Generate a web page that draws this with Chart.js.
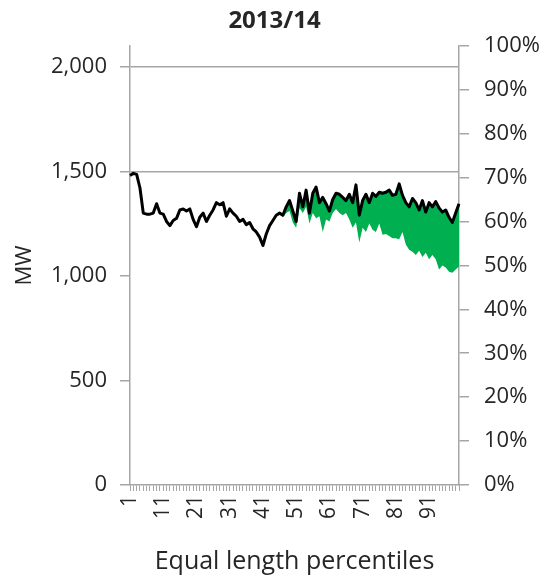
<!DOCTYPE html>
<html>
<head>
<meta charset="utf-8">
<script src="https://cdn.jsdelivr.net/npm/chart.js@4.4.0/dist/chart.umd.min.js"></script>
<style>
  html, body { margin: 0; padding: 0; background: #fff; }
  canvas { display: block; }
</style>
</head>
<body>
<canvas id="grafica" width="549" height="580"></canvas>
<script>
// percentiles 1..100
const percentiles = [
  1, 2, 3, 4, 5, 6, 7, 8, 9, 10, 11, 12, 13, 14, 15, 16, 17, 18, 19, 20,
  21, 22, 23, 24, 25, 26, 27, 28, 29, 30, 31, 32, 33, 34, 35, 36, 37, 38, 39, 40,
  41, 42, 43, 44, 45, 46, 47, 48, 49, 50, 51, 52, 53, 54, 55, 56, 57, 58, 59, 60,
  61, 62, 63, 64, 65, 66, 67, 68, 69, 70, 71, 72, 73, 74, 75, 76, 77, 78, 79, 80,
  81, 82, 83, 84, 85, 86, 87, 88, 89, 90, 91, 92, 93, 94, 95, 96, 97, 98, 99, 100
];
const xTickLabels = ['1', '11', '21', '31', '41', '51', '61', '71', '81', '91'];

// linea negra (MW)
const demanda = [
  1480, 1490, 1485, 1420, 1300, 1295, 1295, 1300, 1345, 1300,
  1295, 1260, 1240, 1265, 1275, 1315, 1320, 1310, 1320, 1270,
  1235, 1280, 1300, 1260, 1290, 1315, 1350, 1340, 1350, 1285,
  1320, 1300, 1285, 1260, 1270, 1245, 1255, 1225, 1210, 1185,
  1145, 1200, 1240, 1265, 1290, 1300, 1290, 1330, 1360, 1310,
  1260, 1395, 1330, 1410, 1300, 1395, 1425, 1350, 1375, 1345,
  1310, 1365, 1395, 1390, 1375, 1360, 1390, 1350, 1435, 1290,
  1360, 1390, 1350, 1395, 1380, 1400, 1395, 1400, 1410, 1385,
  1390, 1440, 1385, 1350, 1330, 1370, 1350, 1315, 1360, 1305,
  1350, 1330, 1355, 1325, 1305, 1315, 1280, 1255, 1300, 1345
];

// borde inferior del área verde (MW)
const inferior = [
  null, null, null, null, null, null, null, null, null, null,
  null, null, null, null, null, null, null, null, null, null,
  null, null, null, null, null, null, null, null, null, null,
  null, null, null, null, null, null, null, null, null, null,
  null, null, null, null, null, 1300, 1280, 1300, 1310, 1255,
  1230, 1325, 1300, 1330, 1250, 1300, 1275, 1285, 1210, 1270,
  1260, 1300, 1320, 1300, 1290, 1300, 1270, 1230, 1255, 1160,
  1230, 1210, 1250, 1220, 1210, 1250, 1196, 1200, 1190, 1180,
  1180, 1175, 1210, 1150, 1125, 1115, 1100, 1120, 1090, 1110,
  1080, 1100, 1080, 1030, 1050, 1040, 1020, 1015, 1030, 1045
];

const mwTicks = [0, 500, 1000, 1500, 2000];
const pctTicks = [0, 10, 20, 30, 40, 50, 60, 70, 80, 90, 100];

const fuente = "'Open Sans', 'DejaVu Sans', sans-serif";
const gris = '#a6a6a6';
const texto = '#262626';

const ctx = document.getElementById('grafica').getContext('2d');

new Chart(ctx, {
  type: 'line',
  data: {
    labels: percentiles,
    datasets: [
      {
        label: 'MW',
        data: demanda,
        borderColor: '#000000',
        borderWidth: 3,
        pointRadius: 0,
        tension: 0,
        fill: false,
        borderJoinStyle: 'round',
        yAxisID: 'y'
      },
      {
        label: 'inferior',
        data: inferior,
        borderColor: 'rgba(0,0,0,0)',
        borderWidth: 0,
        backgroundColor: '#00b050',
        pointRadius: 0,
        tension: 0,
        fill: { target: 0 },
        yAxisID: 'y'
      }
    ]
  },
  options: {
    responsive: false,
    animation: false,
    layout: { padding: 0 },
    plugins: {
      legend: { display: false },
      tooltip: { enabled: false },
      title: {
        display: true,
        text: '2013/14',
        color: texto,
        font: { family: fuente, size: 24, weight: 'bold' },
        padding: { top: 7, bottom: 10 }
      }
    },
    scales: {
      x: {
        type: 'category',
        grid: {
          drawOnChartArea: false,
          drawTicks: true,
          tickLength: 6,
          tickColor: gris
        },
        border: { color: gris, width: 1.5 },
        ticks: {
          autoSkip: false,
          minRotation: 90,
          maxRotation: 90,
          padding: 4,
          color: texto,
          font: { family: fuente, size: 21 },
          callback: function (v, i) {
            return i % 10 === 0 ? xTickLabels[i / 10] : '';
          }
        },
        title: {
          display: true,
          text: 'Equal length percentiles',
          color: texto,
          font: { family: fuente, size: 25 },
          padding: { top: 4, bottom: 3 }
        },
        afterFit: function (scale) { scale.height = 95; }
      },
      y: {
        position: 'left',
        min: 0,
        max: 2100,
        grid: {
          color: function (c) { return c.tick && c.tick.value >= 1500 ? gris : 'rgba(0,0,0,0)'; },
          tickColor: gris,
          tickLength: 10,
          lineWidth: 1.5
        },
        border: { color: gris, width: 1.5 },
        afterBuildTicks: function (scale) {
          scale.ticks = mwTicks.map(v => ({ value: v }));
        },
        ticks: {
          padding: 13,
          color: texto,
          font: { family: fuente, size: 22 },
          callback: v => v.toLocaleString('en-US')
        },
        title: {
          display: true,
          text: 'MW',
          color: texto,
          font: { family: fuente, size: 22 },
          padding: { top: 12, bottom: 0 }
        },
        afterFit: function (scale) { scale.width = 130; }
      },
      y2: {
        position: 'right',
        min: 0,
        max: 100,
        grid: {
          drawOnChartArea: false,
          tickColor: gris,
          tickLength: 10,
          lineWidth: 1.5
        },
        border: { color: gris, width: 1.5 },
        afterBuildTicks: function (scale) {
          scale.ticks = pctTicks.map(v => ({ value: v }));
        },
        ticks: {
          padding: 15,
          color: texto,
          font: { family: fuente, size: 22 },
          callback: v => v + '%'
        },
        afterFit: function (scale) { scale.width = 90; }
      }
    }
  }
});
</script>
</body>
</html>
